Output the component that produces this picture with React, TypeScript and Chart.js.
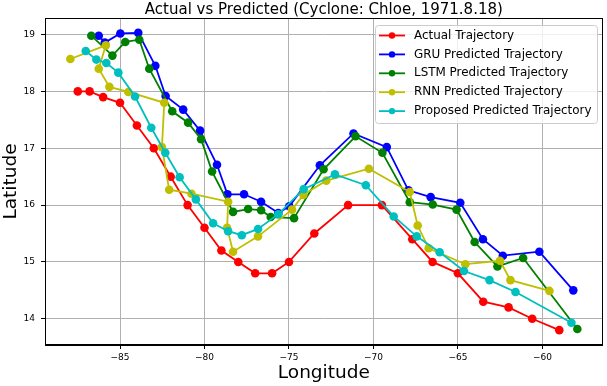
import React, { useEffect, useRef } from "react";
import { Chart, registerables } from "chart.js";

Chart.register(...registerables);

const TITLE = "Actual vs Predicted (Cyclone: Chloe, 1971.8.18)";
const X_LABEL = "Longitude";
const Y_LABEL = "Latitude";
const X_TICKS = [-85, -80, -75, -70, -65, -60];
const Y_TICKS = [14, 15, 16, 17, 18, 19];

const SERIES_NAMES = [
  "Actual Trajectory",
  "GRU Predicted Trajectory",
  "LSTM Predicted Trajectory",
  "RNN Predicted Trajectory",
  "Proposed Predicted Trajectory",
];
const SERIES_COLORS = ["#ff0000", "#0000ff", "#008000", "#bfbf00", "#00bfbf"];

const actualLon = [-87.5, -86.8, -86, -85, -84, -83, -82, -81, -80, -79, -78, -77, -76, -75, -73.5, -71.5, -69.5, -67.7, -66.5, -65, -63.5, -62, -60.6, -59];
const actualLat = [18, 18, 17.9, 17.8, 17.4, 17, 16.5, 16, 15.6, 15.2, 15, 14.8, 14.8, 15, 15.5, 16, 16, 15.4, 15, 14.8, 14.3, 14.2, 14, 13.8];

const gruLon = [-86.26, -85.9, -84.98, -83.92, -82.91, -82.3, -81.26, -80.26, -79.26, -78.64, -77.66, -76.65, -75.63, -74.98, -73.17, -71.18, -69.21, -67.93, -66.61, -64.86, -63.52, -62.34, -60.18, -58.17];
const gruLat = [18.98, 18.86, 19.02, 19.03, 18.45, 17.92, 17.68, 17.31, 16.71, 16.19, 16.19, 16.06, 15.86, 15.98, 16.7, 17.26, 17.02, 16.26, 16.14, 16.04, 15.4, 15.11, 15.18, 14.5];

const lstmLon = [-86.7, -85.45, -84.69, -83.86, -83.27, -81.91, -80.97, -80.2, -79.55, -78.31, -77.42, -76.65, -76.08, -74.7, -72.95, -71.06, -69.47, -67.85, -66.49, -65.08, -64.01, -62.66, -61.14, -57.93];
const lstmLat = [18.98, 18.63, 18.87, 18.91, 18.4, 17.65, 17.45, 17.16, 16.59, 15.88, 15.93, 15.91, 15.79, 15.77, 16.63, 17.21, 16.92, 16.05, 16.01, 15.92, 15.35, 14.92, 15.07, 13.82];

const rnnLon = [-87.94, -85.84, -86.26, -85.63, -84.51, -82.38, -82.52, -82.09, -80.77, -78.6, -78.66, -78.31, -76.83, -74.82, -74.15, -72.79, -70.27, -67.85, -67.38, -66.73, -64.56, -62.51, -61.89, -59.58];
const rnnLat = [18.57, 18.81, 18.4, 18.08, 17.99, 17.8, 17.02, 16.27, 16.2, 16.06, 15.6, 15.18, 15.45, 15.92, 16.18, 16.43, 16.64, 16.23, 15.64, 15.24, 14.96, 15.02, 14.68, 14.49];

const propLon = [-87.03, -86.4, -85.81, -85.1, -84.11, -83.15, -82.32, -81.47, -80.51, -79.49, -78.6, -77.79, -76.83, -75.63, -74.13, -72.28, -70.45, -68.8, -67.44, -66.08, -64.64, -63.13, -61.59, -58.28];
const propLat = [18.71, 18.56, 18.5, 18.33, 17.91, 17.36, 16.92, 16.49, 16.1, 15.68, 15.54, 15.47, 15.58, 15.84, 16.28, 16.54, 16.35, 15.8, 15.45, 15.17, 14.84, 14.68, 14.47, 13.93];

const LONS = [actualLon, gruLon, lstmLon, rnnLon, propLon];
const LATS = [actualLat, gruLat, lstmLat, rnnLat, propLat];

const FONT = "'DejaVu Sans', sans-serif";

function paddedRange(arrs: number[][]) {
  const all = arrs.flat();
  const mn = Math.min(...all);
  const mx = Math.max(...all);
  const pad = (mx - mn) * 0.05;
  return [mn - pad, mx + pad];
}

const fmt = (v: number) => (v < 0 ? "\u2212" + Math.abs(v) : String(v));

const framePlugin = {
  id: "frameAndLegend",
  afterDraw(chart: any) {
    const { ctx, chartArea } = chart;
    ctx.save();
    ctx.strokeStyle = "#000";
    ctx.lineWidth = 1;
    ctx.strokeRect(
      Math.round(chartArea.left) + 0.5,
      Math.round(chartArea.top) + 0.5,
      Math.round(chartArea.right - chartArea.left) - 1,
      Math.round(chartArea.bottom - chartArea.top) - 1
    );
    // title, centred over the plot area
    ctx.fillStyle = "#000";
    ctx.font = `15px ${FONT}`;
    ctx.textAlign = "center";
    ctx.textBaseline = "alphabetic";
    ctx.fillText(TITLE, (chartArea.left + chartArea.right) / 2, 13.5);
    // legend
    const bx = 375.5, by = 25.5, bw = 222, bh = 98, r = 3;
    ctx.beginPath();
    ctx.moveTo(bx + r, by);
    ctx.lineTo(bx + bw - r, by);
    ctx.quadraticCurveTo(bx + bw, by, bx + bw, by + r);
    ctx.lineTo(bx + bw, by + bh - r);
    ctx.quadraticCurveTo(bx + bw, by + bh, bx + bw - r, by + bh);
    ctx.lineTo(bx + r, by + bh);
    ctx.quadraticCurveTo(bx, by + bh, bx, by + bh - r);
    ctx.lineTo(bx, by + r);
    ctx.quadraticCurveTo(bx, by, bx + r, by);
    ctx.closePath();
    ctx.fillStyle = "rgba(255,255,255,0.8)";
    ctx.fill();
    ctx.strokeStyle = "#cccccc";
    ctx.stroke();
    ctx.font = `11.95px ${FONT}`;
    ctx.textBaseline = "middle";
    ctx.textAlign = "left";
    SERIES_NAMES.forEach((name, i) => {
      const y = 35.5 + i * 18.9;
      ctx.strokeStyle = SERIES_COLORS[i];
      ctx.lineWidth = 1.8;
      ctx.beginPath();
      ctx.moveTo(379, y);
      ctx.lineTo(405, y);
      ctx.stroke();
      ctx.fillStyle = SERIES_COLORS[i];
      ctx.beginPath();
      ctx.arc(392, y, 3.2, 0, Math.PI * 2);
      ctx.fill();
      ctx.fillStyle = "#000";
      ctx.fillText(name, 414, y);
    });
    ctx.restore();
  },
};

export default function App() {
  const ref = useRef<HTMLCanvasElement | null>(null);
  useEffect(() => {
    document.body.style.margin = "0";
    const [xmin, xmax] = paddedRange(LONS);
    const [ymin, ymax] = paddedRange(LATS);
    const datasets = SERIES_NAMES.map((name, i) => ({
      label: name,
      data: LONS[i].map((x, j) => ({ x, y: LATS[i][j] })),
      showLine: true,
      borderColor: SERIES_COLORS[i],
      backgroundColor: SERIES_COLORS[i],
      borderWidth: 1.8,
      pointRadius: 4.3,
      pointBorderWidth: 0,
      pointHoverRadius: 4.3,
      order: SERIES_NAMES.length - i,
      tension: 0,
    }));
    const chart = new Chart(ref.current as HTMLCanvasElement, {
      type: "scatter",
      data: { datasets },
      options: {
        responsive: false,
        animation: false,
        devicePixelRatio: 1,
        layout: { padding: { left: 0, right: 4, top: 18, bottom: 0 } },
        plugins: {
          legend: { display: false },
          tooltip: { enabled: false },
          title: { display: false },
        },
        scales: {
          x: {
            type: "linear",
            min: xmin,
            max: xmax,
            afterFit: (s: any) => { s.height = 41; },
            afterBuildTicks: (s: any) => { s.ticks = X_TICKS.map((v) => ({ value: v })); },
            ticks: {
              color: "#000",
              font: { family: FONT, size: 9 },
              padding: 3,
              maxRotation: 0,
              autoSkip: false,
              callback: (v: any) => fmt(Number(v)),
            },
            grid: { color: "#b0b0b0", lineWidth: 1, tickColor: "#000", tickLength: 4 },
            border: { display: true, color: "#000", width: 1 },
            title: {
              display: true,
              text: X_LABEL,
              color: "#000",
              font: { family: FONT, size: 18.5, weight: "normal", lineHeight: 1.2 },
              padding: { top: 0, bottom: 2 },
            },
          },
          y: {
            type: "linear",
            min: ymin,
            max: ymax,
            afterFit: (s: any) => { s.width = 45; },
            afterBuildTicks: (s: any) => { s.ticks = Y_TICKS.map((v) => ({ value: v })); },
            ticks: {
              color: "#000",
              font: { family: FONT, size: 9 },
              padding: 6,
              autoSkip: false,
              callback: (v: any) => fmt(Number(v)),
            },
            grid: { color: "#b0b0b0", lineWidth: 1, tickColor: "#000", tickLength: 4 },
            border: { display: true, color: "#000", width: 1 },
            title: {
              display: true,
              text: Y_LABEL,
              color: "#000",
              font: { family: FONT, size: 18.5, weight: "normal", lineHeight: 1.2 },
              padding: { top: 0, bottom: 0 },
            },
          },
        },
      },
      plugins: [framePlugin],
    } as any);
    return () => chart.destroy();
  }, []);
  return (
    <div style={{ width: 607, height: 386 }}>
      <canvas ref={ref} width={607} height={386} style={{ display: "block" }} />
    </div>
  );
}
